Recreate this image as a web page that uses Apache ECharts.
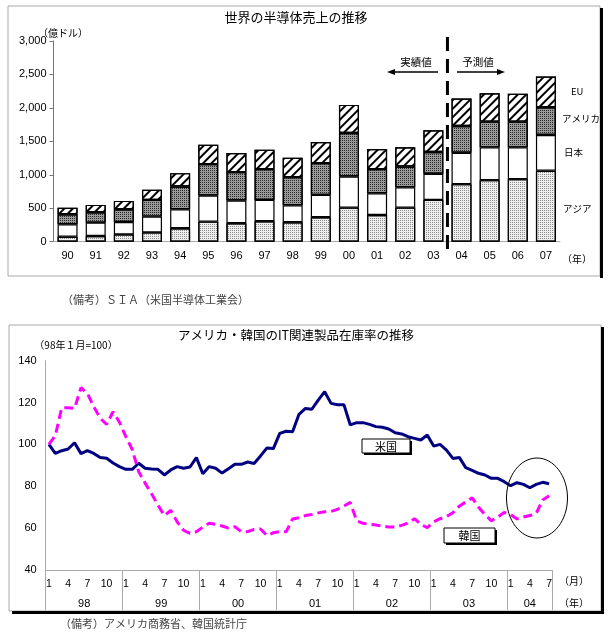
<!DOCTYPE html>
<html>
<head>
<meta charset="utf-8">
<script src="https://cdn.jsdelivr.net/npm/echarts@6/dist/echarts.min.js"></script>
<style>
html,body{margin:0;padding:0;background:#fff;}
#box{width:611px;height:638px;}
</style>
</head>
<body>
<div id="box"></div>
<script>
// 世界の半導体売上（億ドル）
var years = ['90','91','92','93','94','95','96','97','98','99','00','01','02','03','04','05','06','07'];
var asia  = [75, 85, 110, 140, 200, 300, 275, 305, 290, 365, 510, 400, 510, 625, 860, 920, 935, 1060];
var japan = [185, 200, 185, 235, 285, 390, 340, 320, 255, 335, 465, 325, 305, 390, 470, 490, 475, 535];
var usa   = [150, 155, 190, 250, 340, 470, 425, 460, 420, 475, 650, 360, 310, 325, 400, 385, 385, 415];
var eu    = [98, 110, 125, 150, 200, 290, 285, 290, 290, 315, 420, 300, 285, 325, 410, 425, 415, 460];

// 在庫率（98年1月=100）
var invYears = ['98','99','00','01','02','03','04'];
var invMonthsPerYear = [12, 12, 12, 12, 12, 12, 7];
var usInv = [100, 95.7, 97, 97.8, 100.8, 95.6, 97, 95.7, 93.7, 93.4, 91.1, 89.4,
  88.1, 88.1, 91, 88.6, 88.3, 88.1, 85.4, 87.8, 89.4, 88.6, 89.2, 93.7,
  86, 89.4, 88.6, 86.3, 88.4, 90.5, 90.5, 91.6, 90.9, 94.5, 98.3, 98,
  105.3, 106.3, 106.1, 114.4, 117.2, 116.8, 121.2, 125.2, 119.6, 119, 119, 109.3,
  110.4, 110.4, 109.6, 108.5, 108.2, 107.4, 105.6, 105, 103.7, 102.9, 102.1, 104.5,
  99.2, 100, 97.3, 93.3, 93.8, 88.9, 87.6, 86.2, 85.4, 83.8, 83.8, 82.2,
  80.3, 81.7, 80.9, 79.3, 80.9, 81.9, 81.2];
var krInv = [100, 104.2, 117.5, 117.5, 117.2, 127.1, 124.4, 118, 112.5, 109.6, 115.6, 110.6,
  103.7, 97.5, 87, 81.5, 76.5, 71, 66, 68.5, 63, 59, 57.5, 58.3,
  60.5, 62.3, 61.8, 61, 60, 60.7, 58.3, 58.3, 59.4, 59.6, 56.5, 57.8,
  58.3, 58.3, 64.4, 65, 66, 66.5, 67.3, 67.8, 68, 69, 70.5, 72.3,
  63.5, 62.3, 61.8, 61.5, 61, 60.5, 60.5, 61.3, 62.5, 64.5, 61.8, 60.2,
  63, 64.5, 65.5, 67.4, 70.5, 72.5, 74.5, 70, 66.5, 63.5, 65.3, 67.5,
  66.5, 64.4, 65.3, 66, 67.1, 73.5, 75.5];
var monthTicks = [1, 4, 7, 10];

// 月のカテゴリと年の区切り
var months = [], monthNo = [], yearBounds = [0], yearMids = [];
var cnt = 0;
for (var y = 0; y < invYears.length; y++) {
  yearMids.push(cnt + invMonthsPerYear[y] / 2);
  for (var m = 1; m <= invMonthsPerYear[y]; m++) {
    months.push(invYears[y] + '/' + m);
    monthNo.push(m);
    cnt++;
  }
  yearBounds.push(cnt);
}

var JP = '"Noto Sans CJK JP", sans-serif';
var NUM = '"Liberation Sans", Arial, "Noto Sans CJK JP", sans-serif';

function txt(x, y, s, size, align, color, family) {
  return {
    type: 'text', z: 20,
    style: {
      x: x, y: y, text: s,
      font: size + 'px ' + (family || JP),
      fill: color || '#000',
      textAlign: align || 'left', align: align || 'left',
      textVerticalAlign: 'middle', verticalAlign: 'middle'
    }
  };
}
function boxLabel(x, y, w, h, s) {
  return [
    { type: 'rect', z: 18, shape: { x: x + 2, y: y + 2, width: w, height: h }, style: { fill: '#000' } },
    { type: 'rect', z: 19, shape: { x: x, y: y, width: w, height: h }, style: { fill: '#fff', stroke: '#000', lineWidth: 1 } },
    txt(x + w / 2, y + h / 2 + 0.5, s, 11, 'center')
  ];
}

var dotLight = { symbol: 'rect', symbolSize: 1, dashArrayX: [1, 1], dashArrayY: [1, 1], color: '#8c8c8c' };
var dotDark = { symbol: 'rect', symbolSize: 1, dashArrayX: [1, 1], dashArrayY: [1, 1], color: '#2a2a2a' };
var hatch = { symbol: 'rect', symbolSize: 1, dashArrayX: [1, 0], dashArrayY: [2, 4], rotation: -Math.PI / 4, color: '#000' };

var barStyle = function (c, d) {
  return { color: c, borderColor: '#000', borderWidth: 1.2, decal: d };
};

var graphics = [
  // 枠
  { type: 'rect', shape: { x: 8, y: 6, width: 592, height: 270 }, style: { fill: 'none', stroke: '#aaa', lineWidth: 1 } },
  { type: 'rect', shape: { x: 600, y: 8, width: 3, height: 270 }, style: { fill: '#000' } },
  { type: 'rect', shape: { x: 9, y: 325, width: 592, height: 286 }, style: { fill: 'none', stroke: '#aaa', lineWidth: 1 } },
  { type: 'rect', shape: { x: 601, y: 327, width: 3, height: 287 }, style: { fill: '#000' } },
  { type: 'rect', shape: { x: 12, y: 611, width: 592, height: 3 }, style: { fill: '#000' } },

  txt(296, 17, '世界の半導体売上の推移', 13, 'center'),
  txt(63, 33, '（億ドル）', 10, 'center'),
  txt(416, 62, '実績値', 10.5, 'center'),
  txt(478, 62, '予測値', 10.5, 'center'),
  { type: 'line', z: 20, shape: { x1: 438, y1: 72, x2: 393, y2: 72 }, style: { stroke: '#000', lineWidth: 1.3 } },
  { type: 'polygon', z: 20, shape: { points: [[387, 72], [395, 69], [395, 75]] }, style: { fill: '#000' } },
  { type: 'line', z: 20, shape: { x1: 457, y1: 72, x2: 499, y2: 72 }, style: { stroke: '#000', lineWidth: 1.3 } },
  { type: 'polygon', z: 20, shape: { points: [[505, 72], [497, 69], [497, 75]] }, style: { fill: '#000' } },
  txt(571, 91, 'EU', 9.5),
  txt(562, 118, 'アメリカ', 9.5),
  txt(564, 152, '日本', 9.5),
  txt(563, 208, 'アジア', 9.5),
  txt(577, 259, '（年）', 10, 'center'),
  txt(62, 300, '（備考）ＳＩＡ（米国半導体工業会）', 11, 'left', '#444'),

  txt(296, 335, 'アメリカ・韓国のIT関連製品在庫率の推移', 12.5, 'center'),
  txt(76, 345, '（98年１月=100）', 10, 'center'),
  txt(574, 581, '（月）', 10, 'center'),
  txt(574, 603, '（年）', 10, 'center'),
  txt(60, 624, '（備考）アメリカ商務省、韓国統計庁', 11, 'left', '#444'),
  { type: 'ellipse', z: 20, shape: { cx: 537, cy: 498, rx: 30.5, ry: 40 }, style: { fill: 'none', stroke: '#000', lineWidth: 1 } }
].concat(boxLabel(362, 439, 48, 14, '米国'), boxLabel(444, 528, 51, 15, '韓国'));

var myChart = echarts.init(document.getElementById('box'));
var option = {
  animation: false,
  backgroundColor: '#fff',
  grid: [
    { left: 53.5, right: 51, top: 41, height: 200.7 },
    { left: 45.7, right: 58.7, top: 360.7, height: 209.3 }
  ],
  xAxis: [
    {
      gridIndex: 0, type: 'category', data: years,
      axisLine: { lineStyle: { color: '#aaa', width: 1 } },
      axisTick: { show: false },
      axisLabel: { color: '#000', fontSize: 11, fontFamily: NUM, margin: 9 }
    },
    {
      gridIndex: 1, type: 'category', data: months, boundaryGap: true,
      axisLine: { lineStyle: { color: '#aaa', width: 1 } },
      axisTick: { show: false },
      axisLabel: {
        color: '#000', fontSize: 10.5, fontFamily: NUM, margin: 9,
        interval: function (i) { return monthTicks.indexOf(monthNo[i]) >= 0; },
        formatter: function (v, i) { return String(monthNo[i]); }
      }
    },
    {
      gridIndex: 1, type: 'value', min: 0, max: months.length, position: 'bottom',
      axisLine: { show: false },
      splitLine: { show: false },
      axisTick: { show: true, customValues: yearBounds, length: 40, lineStyle: { color: '#aaa', width: 1 } },
      axisLabel: {
        customValues: yearMids, color: '#000', fontSize: 11, fontFamily: NUM, margin: 28,
        formatter: function (v) { return invYears[yearMids.indexOf(v)]; }
      }
    }
  ],
  yAxis: [
    {
      gridIndex: 0, type: 'value', min: 0, max: 3000, interval: 500,
      axisLine: { show: true, lineStyle: { color: '#777', width: 1 } },
      axisTick: { show: true, length: 4, lineStyle: { color: '#777' } },
      splitLine: { show: false },
      axisLabel: {
        color: '#000', fontSize: 11, fontFamily: NUM, margin: 7,
        formatter: function (v) { return v >= 1000 ? Math.floor(v / 1000) + ',' + ('00' + (v % 1000)).slice(-3) : String(v); }
      }
    },
    {
      gridIndex: 1, type: 'value', min: 40, max: 140, interval: 20,
      axisLine: { show: true, lineStyle: { color: '#aaa', width: 1 } },
      axisTick: { show: false },
      splitLine: { show: false },
      axisLabel: { color: '#000', fontSize: 11, fontFamily: NUM, margin: 9 }
    }
  ],
  series: [
    { name: 'アジア', type: 'bar', stack: 'total', xAxisIndex: 0, yAxisIndex: 0, barWidth: 20, data: asia, itemStyle: barStyle('#eeeeee', dotLight) },
    { name: '日本', type: 'bar', stack: 'total', xAxisIndex: 0, yAxisIndex: 0, barWidth: 20, data: japan, itemStyle: barStyle('#ffffff', null) },
    { name: 'アメリカ', type: 'bar', stack: 'total', xAxisIndex: 0, yAxisIndex: 0, barWidth: 20, data: usa, itemStyle: barStyle('#9a9a9a', dotDark) },
    { name: 'EU', type: 'bar', stack: 'total', xAxisIndex: 0, yAxisIndex: 0, barWidth: 20, data: eu, itemStyle: barStyle('#ffffff', hatch) },
    {
      name: '米国', type: 'line', xAxisIndex: 1, yAxisIndex: 1, data: usInv,
      symbol: 'none', lineStyle: { color: '#000080', width: 3 }, itemStyle: { color: '#000080' }
    },
    {
      name: '韓国', type: 'line', xAxisIndex: 1, yAxisIndex: 1, data: krInv,
      symbol: 'none', lineStyle: { color: '#ff00ff', width: 3, type: [9, 5] }, itemStyle: { color: '#ff00ff' }
    }
  ],
  graphic: { elements: graphics }
};
if (option && typeof option === 'object') {
  myChart.setOption(option, true);
}

// 実績値と予測値の区切り線（03と04の間）
var x03 = myChart.convertToPixel({ xAxisIndex: 0 }, '03');
var x04 = myChart.convertToPixel({ xAxisIndex: 0 }, '04');
var sepX = (x03 + x04) / 2;
myChart.setOption({
  graphic: {
    elements: [{
      id: 'sep', type: 'line', z: 25,
      shape: { x1: sepX, y1: 37, x2: sepX, y2: 251 },
      style: { stroke: '#000', lineWidth: 3, lineDash: [14, 8] }
    }]
  }
});
</script>
</body>
</html>
